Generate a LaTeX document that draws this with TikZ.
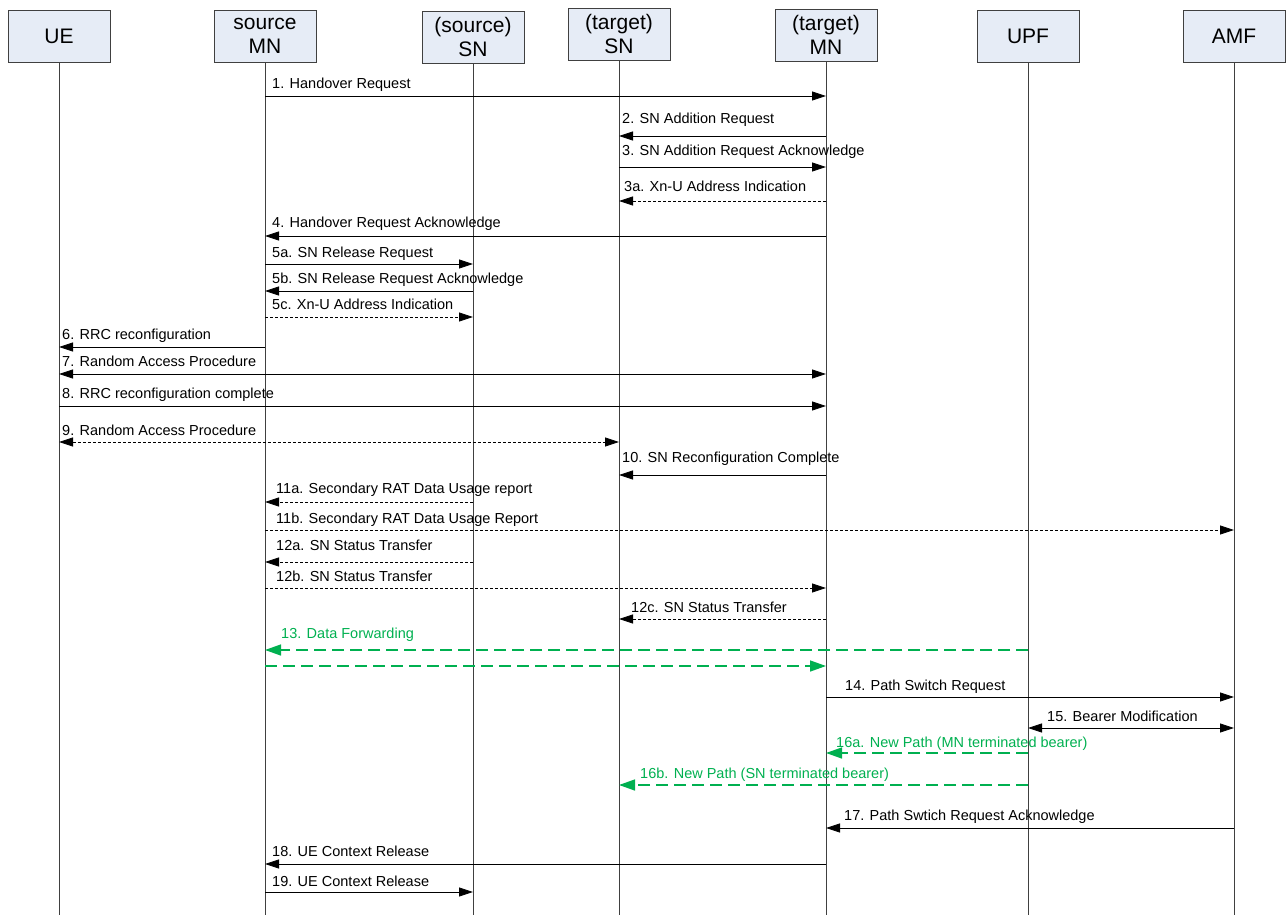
\documentclass[tikz,border=0pt]{standalone}
\usepackage{fontspec}
\setmainfont{Liberation Sans}
\usetikzlibrary{arrows.meta}
\definecolor{boxfill}{RGB}{230,236,246}
\definecolor{fwd}{RGB}{0,176,80}
\newcommand\msgline[7]{% style, from, to, line y, label x, label center y, label
  \draw[#1] (#2 |- 0,#4) -- (#3 |- 0,#4);
  \node[lbl] (#7) at (#5,#6+5) {#7};}
\begin{document}
\begin{tikzpicture}[x=1pt,y=-1pt,
  hdr/.style={draw=black!75, fill=boxfill, minimum width=102pt, minimum height=52pt,
    inner sep=0pt, align=center, font=\fontsize{21}{24}\selectfont},
  life/.style={draw=black!75, line width=0.8pt},
  msg/.style={line width=0.8pt, -{Triangle[length=14pt,width=9pt]}},
  dmsg/.style={msg, dash pattern=on 3pt off 2pt},
  bmsg/.style={line width=0.8pt, {Triangle[length=14pt,width=9pt]}-{Triangle[length=14pt,width=9pt]}},
  dbmsg/.style={bmsg, dash pattern=on 3pt off 2pt},
  gmsg/.style={draw=fwd, line width=1.4pt, dash pattern=on 12pt off 6pt,
    -{Triangle[length=16pt,width=11pt]}},
  lbl/.style={anchor=base west, inner sep=0pt, font=\fontsize{14.5}{16}\selectfont},
  glbl/.style={lbl, text=fwd}]
\useasboundingbox (0,0) rectangle (1286,915);
% headers
\node[hdr] (ue)  at (59,36)   {UE};
\node[hdr] (smn) at (265,36)  {source\\MN};
\node[hdr] (ssn) at (473,37)  {(source)\\SN};
\node[hdr] (tsn) at (619,34)  {(target)\\SN};
\node[hdr] (tmn) at (826,35)  {(target)\\MN};
\node[hdr] (upf) at (1028,36) {UPF};
\node[hdr] (amf) at (1234,36) {AMF};
% lifelines
\foreach \n in {ue,smn,ssn,tsn,tmn,upf,amf}
  \draw[life] (\n.south) -- (\n |- 0,915);
% messages
\draw[msg]  (smn |- 0,96) -- (tmn |- 0,96);
\node[lbl] (m1) at (272,89) {1. Handover Request};
\draw[msg]  (tmn |- 0,136) -- (tsn |- 0,136);
\node[lbl] (m2) at (622,124) {2. SN Addition Request};
\draw[msg]  (tsn |- 0,167) -- (tmn |- 0,167);
\node[lbl] (m3) at (622,156) {3. SN Addition Request Acknowledge};
\draw[dmsg] (tmn |- 0,201) -- (tsn |- 0,201);
\node[lbl] (m3a) at (624,192) {3a. Xn-U Address Indication};
\draw[msg]  (tmn |- 0,236) -- (smn |- 0,236);
\node[lbl] (m4) at (272,227) {4. Handover Request Acknowledge};
\draw[msg]  (smn |- 0,264) -- (ssn |- 0,264);
\node[lbl] (m5a) at (272,257) {5a. SN Release Request};
\draw[msg]  (ssn |- 0,291) -- (smn |- 0,291);
\node[lbl] (m5b) at (272,283) {5b. SN Release Request Acknowledge};
\draw[dmsg] (smn |- 0,317) -- (ssn |- 0,317);
\node[lbl] (m5c) at (272,309) {5c. Xn-U Address Indication};
\draw[msg]  (smn |- 0,347) -- (ue |- 0,347);
\node[lbl] (m6) at (62,339) {6. RRC reconfiguration};
\draw[bmsg] (ue |- 0,374) -- (tmn |- 0,374);
\node[lbl] (m7) at (62,366) {7. Random Access Procedure};
\draw[msg]  (ue |- 0,406) -- (tmn |- 0,406);
\node[lbl] (m8) at (62,398) {8. RRC reconfiguration complete};
\draw[dbmsg] (ue |- 0,442) -- (tsn |- 0,442);
\node[lbl] (m9) at (62,435) {9. Random Access Procedure};
\draw[msg]  (tmn |- 0,475) -- (tsn |- 0,475);
\node[lbl] (m10) at (622,462) {10. SN Reconfiguration Complete};
\draw[dmsg] (ssn |- 0,502) -- (smn |- 0,502);
\node[lbl] (m11a) at (276,493) {11a. Secondary RAT Data Usage report};
\draw[dmsg] (smn |- 0,530) -- (amf |- 0,530);
\node[lbl] (m11b) at (276,523) {11b. Secondary RAT Data Usage Report};
\draw[dmsg] (ssn |- 0,562) -- (smn |- 0,562);
\node[lbl] (m12a) at (276,550) {12a. SN Status Transfer};
\draw[dmsg] (smn |- 0,588) -- (tmn |- 0,588);
\node[lbl] (m12b) at (276,581) {12b. SN Status Transfer};
\draw[dmsg] (tmn |- 0,619) -- (tsn |- 0,619);
\node[lbl] (m12c) at (631,612) {12c. SN Status Transfer};
\draw[gmsg] (upf |- 0,650) -- (smn |- 0,650);
\draw[gmsg] (smn |- 0,666) -- (tmn |- 0,666);
\node[glbl] (m13) at (281,638) {13. Data Forwarding};
\draw[msg]  (tmn |- 0,697) -- (amf |- 0,697);
\node[lbl] (m14) at (845,690) {14. Path Switch Request};
\draw[bmsg] (upf |- 0,728) -- (amf |- 0,728);
\node[lbl] (m15) at (1047,721) {15. Bearer Modification};
\draw[gmsg] (upf |- 0,753) -- (tmn |- 0,753);
\node[glbl] (m16a) at (836,747) {16a. New Path (MN terminated bearer)};
\draw[gmsg] (upf |- 0,785) -- (tsn |- 0,785);
\node[glbl] (m16b) at (640,778) {16b. New Path (SN terminated bearer)};
\draw[msg]  (amf |- 0,828) -- (tmn |- 0,828);
\node[lbl] (m17) at (844,820) {17. Path Swtich Request Acknowledge};
\draw[msg]  (tmn |- 0,864) -- (smn |- 0,864);
\node[lbl] (m18) at (272,856) {18. UE Context Release};
\draw[msg]  (smn |- 0,892) -- (ssn |- 0,892);
\node[lbl] (m19) at (272,886) {19. UE Context Release};
\end{tikzpicture}
\end{document}
